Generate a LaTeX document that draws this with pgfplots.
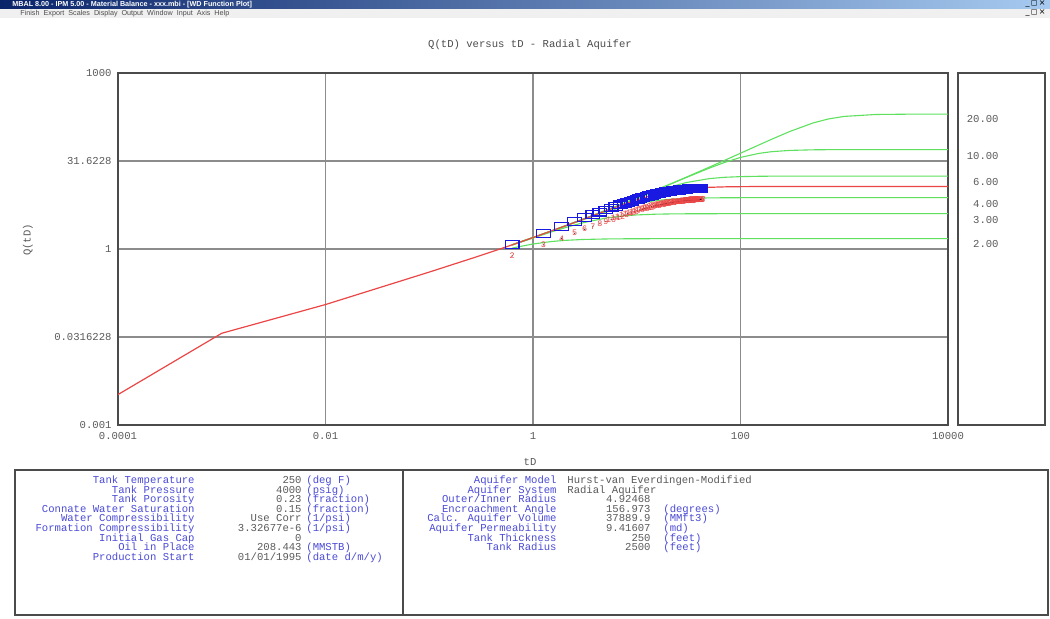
\documentclass[border=0pt]{standalone}
\usepackage{fontspec}
\setmainfont{Liberation Mono}
\newfontfamily\sansf{Liberation Sans}
\newfontfamily\dejavu{DejaVu Sans}
\usepackage{pgfplots}
\usepackage{pgfplotstable}
\pgfplotsset{compat=1.18}
\definecolor{gridgray}{RGB}{140,140,140}
\definecolor{framegray}{RGB}{75,75,75}
\definecolor{txtgray}{RGB}{90,90,90}
\definecolor{lblblue}{RGB}{75,75,215}
\definecolor{lgreen}{RGB}{95,225,95}
\definecolor{lred}{RGB}{235,70,70}
\definecolor{dblue}{RGB}{25,25,225}
\definecolor{navy}{RGB}{10,36,106}
\definecolor{ltblue}{RGB}{166,202,240}
\newcommand\cf{\fontsize{5.3}{6}\selectfont}

\pgfplotstableread{
t q
0.63 1.20
1.26 1.85
1.89 2.40
2.52 2.92
3.15 3.42
3.78 3.845
4.41 4.244
5.04 4.624
5.67 4.984
6.30 5.330
6.93 5.664
7.56 5.968
8.19 6.259
8.82 6.542
9.45 6.816
10.08 7.078
10.71 7.291
11.34 7.498
11.97 7.699
12.60 7.895
13.23 8.086
13.86 8.273
14.49 8.456
15.12 8.625
15.75 8.755
16.38 8.880
17.01 9.004
17.64 9.123
18.27 9.240
18.90 9.355
19.53 9.467
20.16 9.568
20.79 9.637
21.42 9.705
22.05 9.770
22.68 9.835
23.31 9.898
23.94 9.961
24.57 10.02
25.20 10.08
25.83 10.14
26.46 10.20
27.09 10.25
27.72 10.31
28.35 10.36
28.98 10.42
29.61 10.47
30.24 10.51
30.87 10.54
31.50 10.56
32.13 10.58
32.76 10.61
33.39 10.63
34.02 10.65
34.65 10.68
35.28 10.70
35.91 10.72
36.54 10.74
37.17 10.76
37.80 10.78
38.43 10.80
39.06 10.82
39.69 10.84
40.32 10.87
40.95 10.90
41.58 10.94
}\blueobs

\pgfplotstableread{
t q lbl
0.63 0.762 2
1.26 1.175 3
1.89 1.524 4
2.52 1.854 5
3.15 2.172 6
3.78 2.442 7
4.41 2.695 8
5.04 2.936 9
5.67 3.165 10
6.30 3.385 11
6.93 3.597 12
7.56 3.790 13
8.19 3.974 14
8.82 4.154 15
9.45 4.328 16
10.08 4.495 17
10.71 4.630 18
11.34 4.761 19
11.97 4.889 20
12.60 5.013 21
13.23 5.135 22
13.86 5.253 23
14.49 5.370 24
15.12 5.477 25
15.75 5.559 26
16.38 5.639 27
17.01 5.718 28
17.64 5.793 29
18.27 5.867 30
18.90 5.940 31
19.53 6.012 32
20.16 6.076 33
20.79 6.119 34
21.42 6.163 35
22.05 6.204 36
22.68 6.245 37
23.31 6.285 38
23.94 6.325 39
24.57 6.363 40
25.20 6.401 41
25.83 6.439 42
26.46 6.477 43
27.09 6.509 44
27.72 6.547 45
28.35 6.579 46
28.98 6.617 47
29.61 6.648 48
30.24 6.674 49
30.87 6.693 50
31.50 6.706 51
32.13 6.718 52
32.76 6.737 53
33.39 6.750 54
34.02 6.763 55
34.65 6.782 56
35.28 6.795 57
35.91 6.807 58
36.54 6.820 59
37.17 6.833 60
37.80 6.845 61
38.43 6.858 62
39.06 6.871 63
39.69 6.890 64
40.32 6.920 65
40.95 6.960 66
41.58 7.010 67
}\redcalc

\begin{document}
\begin{tikzpicture}[x=0.5pt,y=0.5pt]
\path[use as bounding box, fill=white] (0,0) rectangle (1050,619);
% window chrome
\shade[left color=navy, right color=ltblue] (0,610) rectangle (1050,619);
\node[anchor=west, text=white, font=\sansf\bfseries\fontsize{3.6}{4}\selectfont, inner sep=0pt] at (12,614.5) {MBAL 8.00 - IPM 5.00 - Material Balance - xxx.mbi - [WD Function Plot]};
\node[anchor=east, font=\dejavu\fontsize{4}{4}\selectfont, inner sep=0pt] at (1046,614.5) {\_\,◻\,×};
\fill[white!94!black] (0,601) rectangle (1050,610);
\node[anchor=west, text=black!70, font=\sansf\fontsize{3.6}{4}\selectfont, inner sep=0pt] at (20,605.5) {Finish\ \ Export\ \ Scales\ \ Display\ \ Output\ \ Window\ \ Input\ \ Axis\ \ Help};
\node[anchor=east, font=\dejavu\fontsize{4}{4}\selectfont, inner sep=0pt] at (1046,605.5) {\_\,◻\,×};

\coordinate (plotorigin) at (118,194);
\begin{axis}[
  at={(plotorigin)}, anchor=south west,
  scale only axis, width=415pt, height=176pt,
  xmode=log, ymode=log,
  xmin=1e-4, xmax=1e4, ymin=1e-3, ymax=1e3,
  xtick={1e-4,1e-2,1,1e2,1e4},
  xticklabels={0.0001,0.01,1,100,10000},
  ytick={1e-3,0.0316228,1,31.6228,1e3},
  yticklabels={0.001,0.0316228,1,31.6228,1000},
  minor xtick={}, minor ytick={},
  major tick length=0pt,
  grid=major,
  major grid style={gridgray, line width=0.7pt},
  axis line style={framegray, line width=1pt},
  tick label style={font=\cf, text=txtgray},
  /pgf/number format/assume math mode=true,
  xticklabel style={yshift=0pt},
  yticklabel style={xshift=0.3pt},
  clip=true,
]
% green reference curves (reD = 2,3,4,6,10,20)
\addplot[lgreen, line width=0.55pt] coordinates {(0.63,1.033) (0.7,1.077) (1,1.216) (1.5,1.339) (2,1.400) (3,1.452) (5,1.482) (7,1.491) (10,1.496) (20,1.5) (10000,1.5)};
\addplot[lgreen, line width=0.55pt] coordinates {(0.63,1.168) (0.7,1.244) (1,1.538) (1.5,1.947) (2,2.283) (3,2.788) (5,3.360) (7,3.630) (10,3.809) (15,3.917) (20,3.955) (30,3.982) (50,3.994) (100,4.0) (10000,4.0)};
\addplot[lgreen, line width=0.55pt] coordinates {(0.63,1.177) (0.7,1.255) (1,1.563) (1.5,2.016) (2,2.418) (3,3.121) (5,4.242) (7,5.072) (10,5.913) (15,6.660) (20,7.008) (30,7.288) (50,7.432) (70,7.469) (100,7.487) (150,7.5) (10000,7.5)};
\addplot[lgreen, line width=0.55pt] coordinates {(0.63,1.178) (0.7,1.257) (1,1.568) (1.5,2.028) (2,2.443) (3,3.194) (5,4.507) (7,5.671) (10,7.223) (15,9.405) (20,11.15) (30,13.575) (50,15.833) (70,16.668) (100,17.122) (150,17.354) (200,17.431) (300,17.476) (500,17.497) (10000,17.5)};
\addplot[lgreen, line width=0.55pt] coordinates {(0.63,1.178) (0.7,1.257) (1,1.568) (1.5,2.029) (2,2.445) (3,3.2) (5,4.532) (7,5.734) (10,7.393) (15,9.922) (20,12.257) (30,16.53) (50,23.873) (70,29.815) (100,36.37) (150,42.59) (200,45.59) (300,47.92) (500,49.04) (700,49.30) (1000,49.42) (2000,49.49) (10000,49.5)};
\addplot[lgreen, line width=0.55pt] coordinates {(0.63,1.178) (0.7,1.257) (1,1.568) (1.5,2.029) (2,2.445) (3,3.2) (5,4.533) (7,5.737) (10,7.401) (15,9.949) (20,12.32) (30,16.74) (50,24.82) (70,32.32) (100,42.89) (150,59.21) (200,74.31) (300,101.0) (500,140.6) (700,164.3) (1000,182.0) (2000,196.1) (5000,199.3) (10000,199.5)};
% red fitted curve (reD = 4.92468)
\addplot[lred, line width=0.6pt] coordinates {(0.0001,0.0033) (0.001,0.0366) (0.01,0.113) (0.1,0.404) (0.3,0.756) (0.5,1.024) (0.7,1.257) (1,1.567) (1.5,2.025) (2,2.437) (3,3.178) (5,4.445) (7,5.525) (10,6.855) (15,8.461) (20,9.486) (30,10.56) (50,11.254) (70,11.452) (100,11.551) (150,11.598) (200,11.612) (300,11.626) (10000,11.626)};
% red calculated points, drawn as their numbers
\addplot[only marks, mark=*, mark size=0.01pt, mark options={draw=none, fill=none},
  nodes near coords, point meta=explicit symbolic,
  every node near coord/.style={anchor=center, text=lred, inner sep=0pt, font=\fontsize{4.2}{4.2}\selectfont}]
  table[x=t, y=q, meta=lbl] {\redcalc};
% blue observed points
\addplot[only marks, mark=square, mark size=1.9pt, mark options={xscale=1.8, draw=dblue, line width=0.6pt, fill=none}]
  table[x=t, y=q] {\blueobs};
\end{axis}

% titles
\node[font=\cf, text=black!70] at (530,574) {Q(tD) versus tD - Radial Aquifer};
\node[font=\cf, text=txtgray] at (530,157) {tD};
\node[font=\cf, text=txtgray, rotate=90] at (28,379) {Q(tD)};

% right legend box
\draw[framegray, line width=1pt] (958,194) rectangle (1045,546);
\begin{scope}[every node/.style={font=\cf, text=txtgray, anchor=base east, inner sep=0pt}]
\node at (999,496.5) {20.00};
\node at (999,459.8) {10.00};
\node at (999,433.8) {6.00};
\node at (999,411.5) {4.00};
\node at (999,395.5) {3.00};
\node at (999,371.5) {2.00};
\end{scope}

% bottom info panel
\draw[framegray, line width=1pt] (15,4) rectangle (1048,149);
\draw[framegray, line width=0.6pt] (403,4) -- (403,149);
\begin{scope}[every node/.style={font=\cf, inner sep=0pt}, yshift=-1.75pt]
\node[anchor=base east, text=lblblue] at (195,139) {Tank Temperature};
\node[anchor=base east, text=lblblue] at (195,129.4) {Tank Pressure};
\node[anchor=base east, text=lblblue] at (195,119.8) {Tank Porosity};
\node[anchor=base east, text=lblblue] at (195,110.2) {Connate Water Saturation};
\node[anchor=base east, text=lblblue] at (195,100.6) {Water Compressibility};
\node[anchor=base east, text=lblblue] at (195,91) {Formation Compressibility};
\node[anchor=base east, text=lblblue] at (195,81.4) {Initial Gas Cap};
\node[anchor=base east, text=lblblue] at (195,71.8) {Oil in Place};
\node[anchor=base east, text=lblblue] at (195,62.2) {Production Start};
\node[anchor=base east, text=txtgray] at (302,139) {250};
\node[anchor=base east, text=txtgray] at (302,129.4) {4000};
\node[anchor=base east, text=txtgray] at (302,119.8) {0.23};
\node[anchor=base east, text=txtgray] at (302,110.2) {0.15};
\node[anchor=base east, text=txtgray] at (302,100.6) {Use Corr};
\node[anchor=base east, text=txtgray] at (302,91) {3.32677e-6};
\node[anchor=base east, text=txtgray] at (302,81.4) {0};
\node[anchor=base east, text=txtgray] at (302,71.8) {208.443};
\node[anchor=base east, text=txtgray] at (302,62.2) {01/01/1995};
\node[anchor=base west, text=lblblue] at (306,139) {(deg F)};
\node[anchor=base west, text=lblblue] at (306,129.4) {(psig)};
\node[anchor=base west, text=lblblue] at (306,119.8) {(fraction)};
\node[anchor=base west, text=lblblue] at (306,110.2) {(fraction)};
\node[anchor=base west, text=lblblue] at (306,100.6) {(1/psi)};
\node[anchor=base west, text=lblblue] at (306,91) {(1/psi)};
\node[anchor=base west, text=lblblue] at (306,71.8) {(MMSTB)};
\node[anchor=base west, text=lblblue] at (306,62.2) {(date d/m/y)};
%
\node[anchor=base east, text=lblblue] at (557,139) {Aquifer Model};
\node[anchor=base east, text=lblblue] at (557,129.4) {Aquifer System};
\node[anchor=base east, text=lblblue] at (557,119.8) {Outer/Inner Radius};
\node[anchor=base east, text=lblblue] at (557,110.2) {Encroachment Angle};
\node[anchor=base east, text=lblblue] at (557,100.6) {Calc. Aquifer Volume};
\node[anchor=base east, text=lblblue] at (557,91) {Aquifer Permeability};
\node[anchor=base east, text=lblblue] at (557,81.4) {Tank Thickness};
\node[anchor=base east, text=lblblue] at (557,71.8) {Tank Radius};
\node[anchor=base west, text=txtgray] at (567,139) {Hurst-van Everdingen-Modified};
\node[anchor=base west, text=txtgray] at (567,129.4) {Radial Aquifer};
\node[anchor=base east, text=txtgray] at (651,119.8) {4.92468};
\node[anchor=base east, text=txtgray] at (651,110.2) {156.973};
\node[anchor=base east, text=txtgray] at (651,100.6) {37889.9};
\node[anchor=base east, text=txtgray] at (651,91) {9.41607};
\node[anchor=base east, text=txtgray] at (651,81.4) {250};
\node[anchor=base east, text=txtgray] at (651,71.8) {2500};
\node[anchor=base west, text=lblblue] at (663,110.2) {(degrees)};
\node[anchor=base west, text=lblblue] at (663,100.6) {(MMft3)};
\node[anchor=base west, text=lblblue] at (663,91) {(md)};
\node[anchor=base west, text=lblblue] at (663,81.4) {(feet)};
\node[anchor=base west, text=lblblue] at (663,71.8) {(feet)};
\end{scope}
\end{tikzpicture}
\end{document}
